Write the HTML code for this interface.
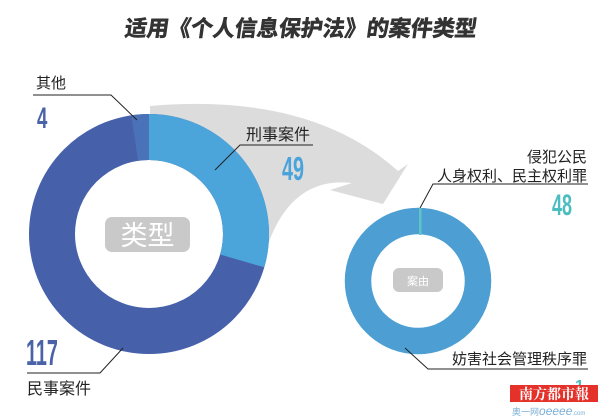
<!DOCTYPE html>
<html><head><meta charset="utf-8"><style>
html,body{margin:0;padding:0;background:#fff;}
body{width:600px;height:419px;overflow:hidden;position:relative;font-family:"Liberation Sans","Noto Sans CJK SC",sans-serif;}
</style></head><body>
<svg width="600" height="419" viewBox="0 0 600 419" xmlns="http://www.w3.org/2000/svg" style="position:absolute;left:0;top:0">
<text x="300" y="36" text-anchor="middle" font-family="Liberation Sans,Noto Sans CJK SC,sans-serif" font-size="22" font-weight="bold" fill="#333" stroke="#333" stroke-width="0.6" transform="skewX(-8) translate(5,0)">适用《个人信息保护法》的案件类型</text>
<!-- grey arrow -->
<path d="M150,106 Q310,92 398,171 L408,164 L383,204 L330,190 L352,183 Q290,176 266,250 L150,240 Z" fill="#dcdcdc"/>
<!-- big donut -->
<g transform="translate(149,234)">
<circle r="74" fill="#fff"/>
<circle r="97" fill="none" stroke="#4760aa" stroke-width="46"/>
<path d="M0,-120 A120,120 0 0 1 115.3,33.3 L71.1,20.5 A74,74 0 0 0 0,-74 Z" fill="#4ba4da"/>
<path d="M-17.7,-118.7 A120,120 0 0 1 0,-120 L0,-74 A74,74 0 0 0 -10.9,-73.2 Z" fill="#4a72b8"/>
</g>
<rect x="105" y="217" width="85" height="35" rx="7" fill="#c9c9c9"/>
<text x="147.5" y="245" text-anchor="middle" font-size="27" fill="#fff" font-family="Liberation Sans,Noto Sans CJK SC,sans-serif">类型</text>
<!-- small donut -->
<circle cx="418" cy="281" r="60" fill="none" stroke="#4d9fd3" stroke-width="26.5"/>
<rect x="419" y="208" width="2.5" height="27" fill="#5ec4c8"/>
<rect x="393" y="268" width="50" height="24" rx="6" fill="#c9c9c9"/>
<text x="418" y="285" text-anchor="middle" font-size="11" fill="#fff">案由</text>
<!-- labels -->
<g font-family="Liberation Sans,Noto Sans CJK SC,sans-serif" fill="#222">
<text x="36" y="88" font-size="15">其他</text>
<text x="246" y="140" font-size="16">刑事案件</text>
<text x="587" y="162" font-size="15" text-anchor="end">侵犯公民</text>
<text x="587" y="181" font-size="15" text-anchor="end">人身权利、民主权利罪</text>
<text x="587" y="364" font-size="15" text-anchor="end">妨害社会管理秩序罪</text>
<text x="27" y="394" font-size="16">民事案件</text>
</g>
<g font-family="Liberation Sans,sans-serif" font-weight="bold">
<text x="37" y="128" font-size="30" fill="#4a63a8" transform="translate(37,128) scale(0.62,1) translate(-37,-128)">4</text>
<text x="282" y="180" font-size="33" fill="#4aa3db" transform="translate(282,180) scale(0.6,1) translate(-282,-180)">49</text>
<text x="552" y="215" font-size="30" fill="#4bbcc0" transform="translate(552,215) scale(0.6,1) translate(-552,-215)">48</text>
<text x="26" y="365" font-size="36" fill="#4a63a8" transform="translate(26,365) scale(0.55,1) translate(-26,-365)">117</text>
<text x="575" y="391" font-size="16" fill="#4bbcc0">1</text>
</g>
<g stroke="#222" stroke-width="1" fill="none">
<polyline points="33,95 111,95 137,120"/>
<polyline points="313,145 240,145 215,170"/>
<polyline points="588,184 433,184 420,208"/>
<polyline points="588,369 428,369 405,348"/>
<polyline points="27,373 100,373 123,348"/>
</g>
<rect x="510" y="385" width="88" height="17" fill="#e4322b"/>
<text x="554" y="399" text-anchor="middle" font-size="14" font-weight="bold" fill="#fff" font-family="Liberation Serif,Noto Serif CJK SC,serif">南方都市報</text>
<text x="512" y="415" font-size="9" fill="#7ab0d8" font-family="Liberation Sans,Noto Sans CJK SC,sans-serif">奥一网<tspan font-style="italic" font-size="12">oeeee</tspan><tspan font-size="6">.com</tspan></text>
</svg>
</body></html>
